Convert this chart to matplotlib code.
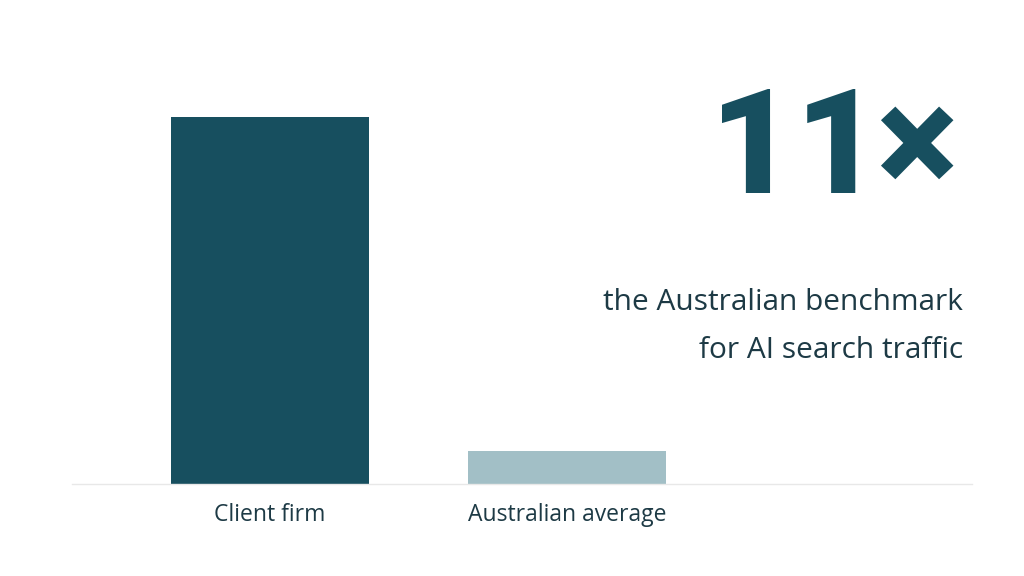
import matplotlib.pyplot as plt

# Data
categories = ['Client firm', 'Australian average']
values = [11, 1]
bar_colors = ['#174f5f', '#a2bfc6']

fig = plt.figure(figsize=(10.24, 5.76), dpi=100)
ax = fig.add_axes([72/1024, 92/576, 900/1024, 412/576])

ax.bar(range(len(categories)), values, width=2/3, color=bar_colors)
ax.set_xlim(-0.667, 2.364)
ax.set_ylim(0, 11 * 412 / 367)

ax.set_xticks(range(len(categories)))
ax.set_xticklabels(categories, fontsize=16.5, color='#1d3a45', family='Open Sans')
ax.tick_params(axis='x', length=0, pad=14)
ax.set_yticks([])
for s in ['top', 'right', 'left']:
    ax.spines[s].set_visible(False)
ax.spines['bottom'].set_color('#e8e8e8')
ax.spines['bottom'].set_linewidth(1)

# big ratio callout
fig.text(880/1024, 1 - 193/576, '11', fontsize=106, fontweight='black',
         family='Roboto', color='#174f5f', ha='right', va='baseline')
fig.text(916/1024, 1 - 152/576, '\u00d7', fontsize=110, fontweight='black',
         family='Roboto', color='#174f5f', ha='center', va='center')
fig.text(963/1024, 1 - 310/576, 'the Australian benchmark', fontsize=21.5,
         family='Open Sans', color='#1d3a45', ha='right', va='baseline')
fig.text(963/1024, 1 - 358/576, 'for AI search traffic', fontsize=21.5,
         family='Open Sans', color='#1d3a45', ha='right', va='baseline')

plt.savefig('out.png', dpi=100)
